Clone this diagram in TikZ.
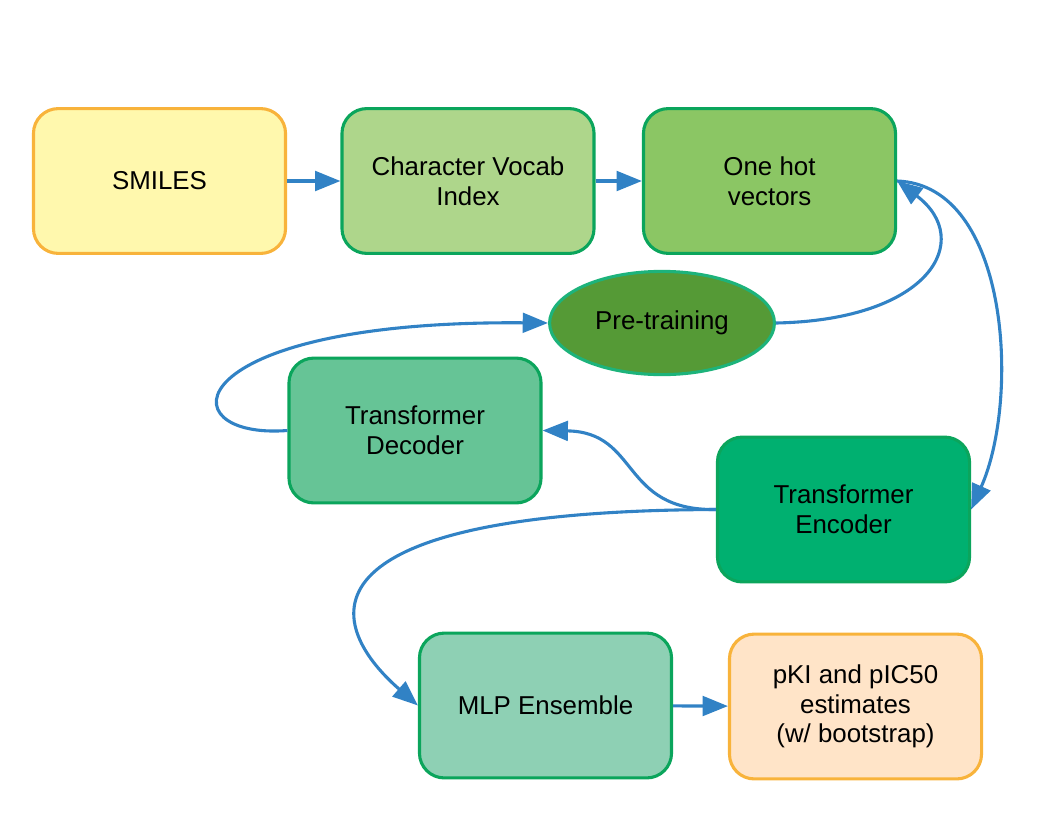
\documentclass[tikz,border=0pt]{standalone}
\usepackage{fontspec}
\setmainfont{Liberation Sans}
\usetikzlibrary{arrows.meta,shapes.geometric}
\definecolor{arrblue}{HTML}{3182C5}
\definecolor{edgegreen}{HTML}{0BA55C}
\definecolor{edgeorange}{HTML}{F8B33B}
\definecolor{smilesfill}{HTML}{FFF8AD}
\definecolor{vocabfill}{HTML}{AED68B}
\definecolor{onehotfill}{HTML}{8BC664}
\definecolor{pretrainfill}{HTML}{559A36}
\definecolor{pretrainedge}{HTML}{1DB37B}
\definecolor{decoderfill}{HTML}{66C496}
\definecolor{encoderfill}{HTML}{00B070}
\definecolor{mlpfill}{HTML}{8ED0B4}
\definecolor{estfill}{HTML}{FFE4C8}
\begin{document}
\begin{tikzpicture}[x=0.025cm,y=-0.025cm,line join=round,
	>={Triangle[length=18pt,width=14pt]},
	font=\fontsize{18.4}{21}\selectfont,
	box/.style={draw=edgegreen,line width=2.2pt,rounded corners=0.62cm,minimum width=6.3cm,minimum height=3.62cm,align=center,inner sep=2pt},
	arr/.style={->,draw=arrblue,line width=2.2pt}]
		
		\useasboundingbox (0,0) rectangle (1056,816);
		\node[box,draw=edgeorange,fill=smilesfill] (smiles) at (159.5,181) {SMILES};
		\node[box,fill=vocabfill] (vocab) at (468,181) {Character Vocab\\Index};
		\node[box,fill=onehotfill] (onehot) at (769.5,181) {One hot\\vectors};
		\node[ellipse,draw=pretrainedge,line width=2.2pt,fill=pretrainfill,minimum width=5.62cm,minimum height=2.58cm] (pretrain) at (662,323) {Pre-training};
		\node[box,fill=decoderfill] (decoder) at (415,430.5) {Transformer\\Decoder};
		\node[box,fill=encoderfill] (encoder) at (843.5,509.5) {Transformer\\Encoder};
		\node[box,fill=mlpfill] (mlp) at (545.5,705.5) {MLP Ensemble};
		\node[box,draw=edgeorange,fill=estfill] (estimates) at (855.5,706.5) {pKI and pIC50\\estimates\\ (w/ bootstrap)};
		
		\draw[arr] (smiles) -- (vocab);
		\draw[arr] (vocab) -- (onehot);
		\draw[arr] (pretrain.east) .. controls (930,320) and (975,240) .. (onehot.east); % pre-training back to the vectors
		\draw[arr] (onehot.east) .. controls (1010,185) and (1020,400) .. (encoder.east);
		\draw[arr] (decoder.west) .. controls (165,440) and (175,320) .. (pretrain.west); % loop round the decoder
		\draw[arr] (encoder.west) .. controls (620,511) and (640,432) .. (decoder.east);
		\draw[arr] (encoder.west) .. controls (300,511) and (320,620) .. (mlp.west);
		\draw[arr] (mlp) -- (estimates);
\end{tikzpicture}
\end{document}
